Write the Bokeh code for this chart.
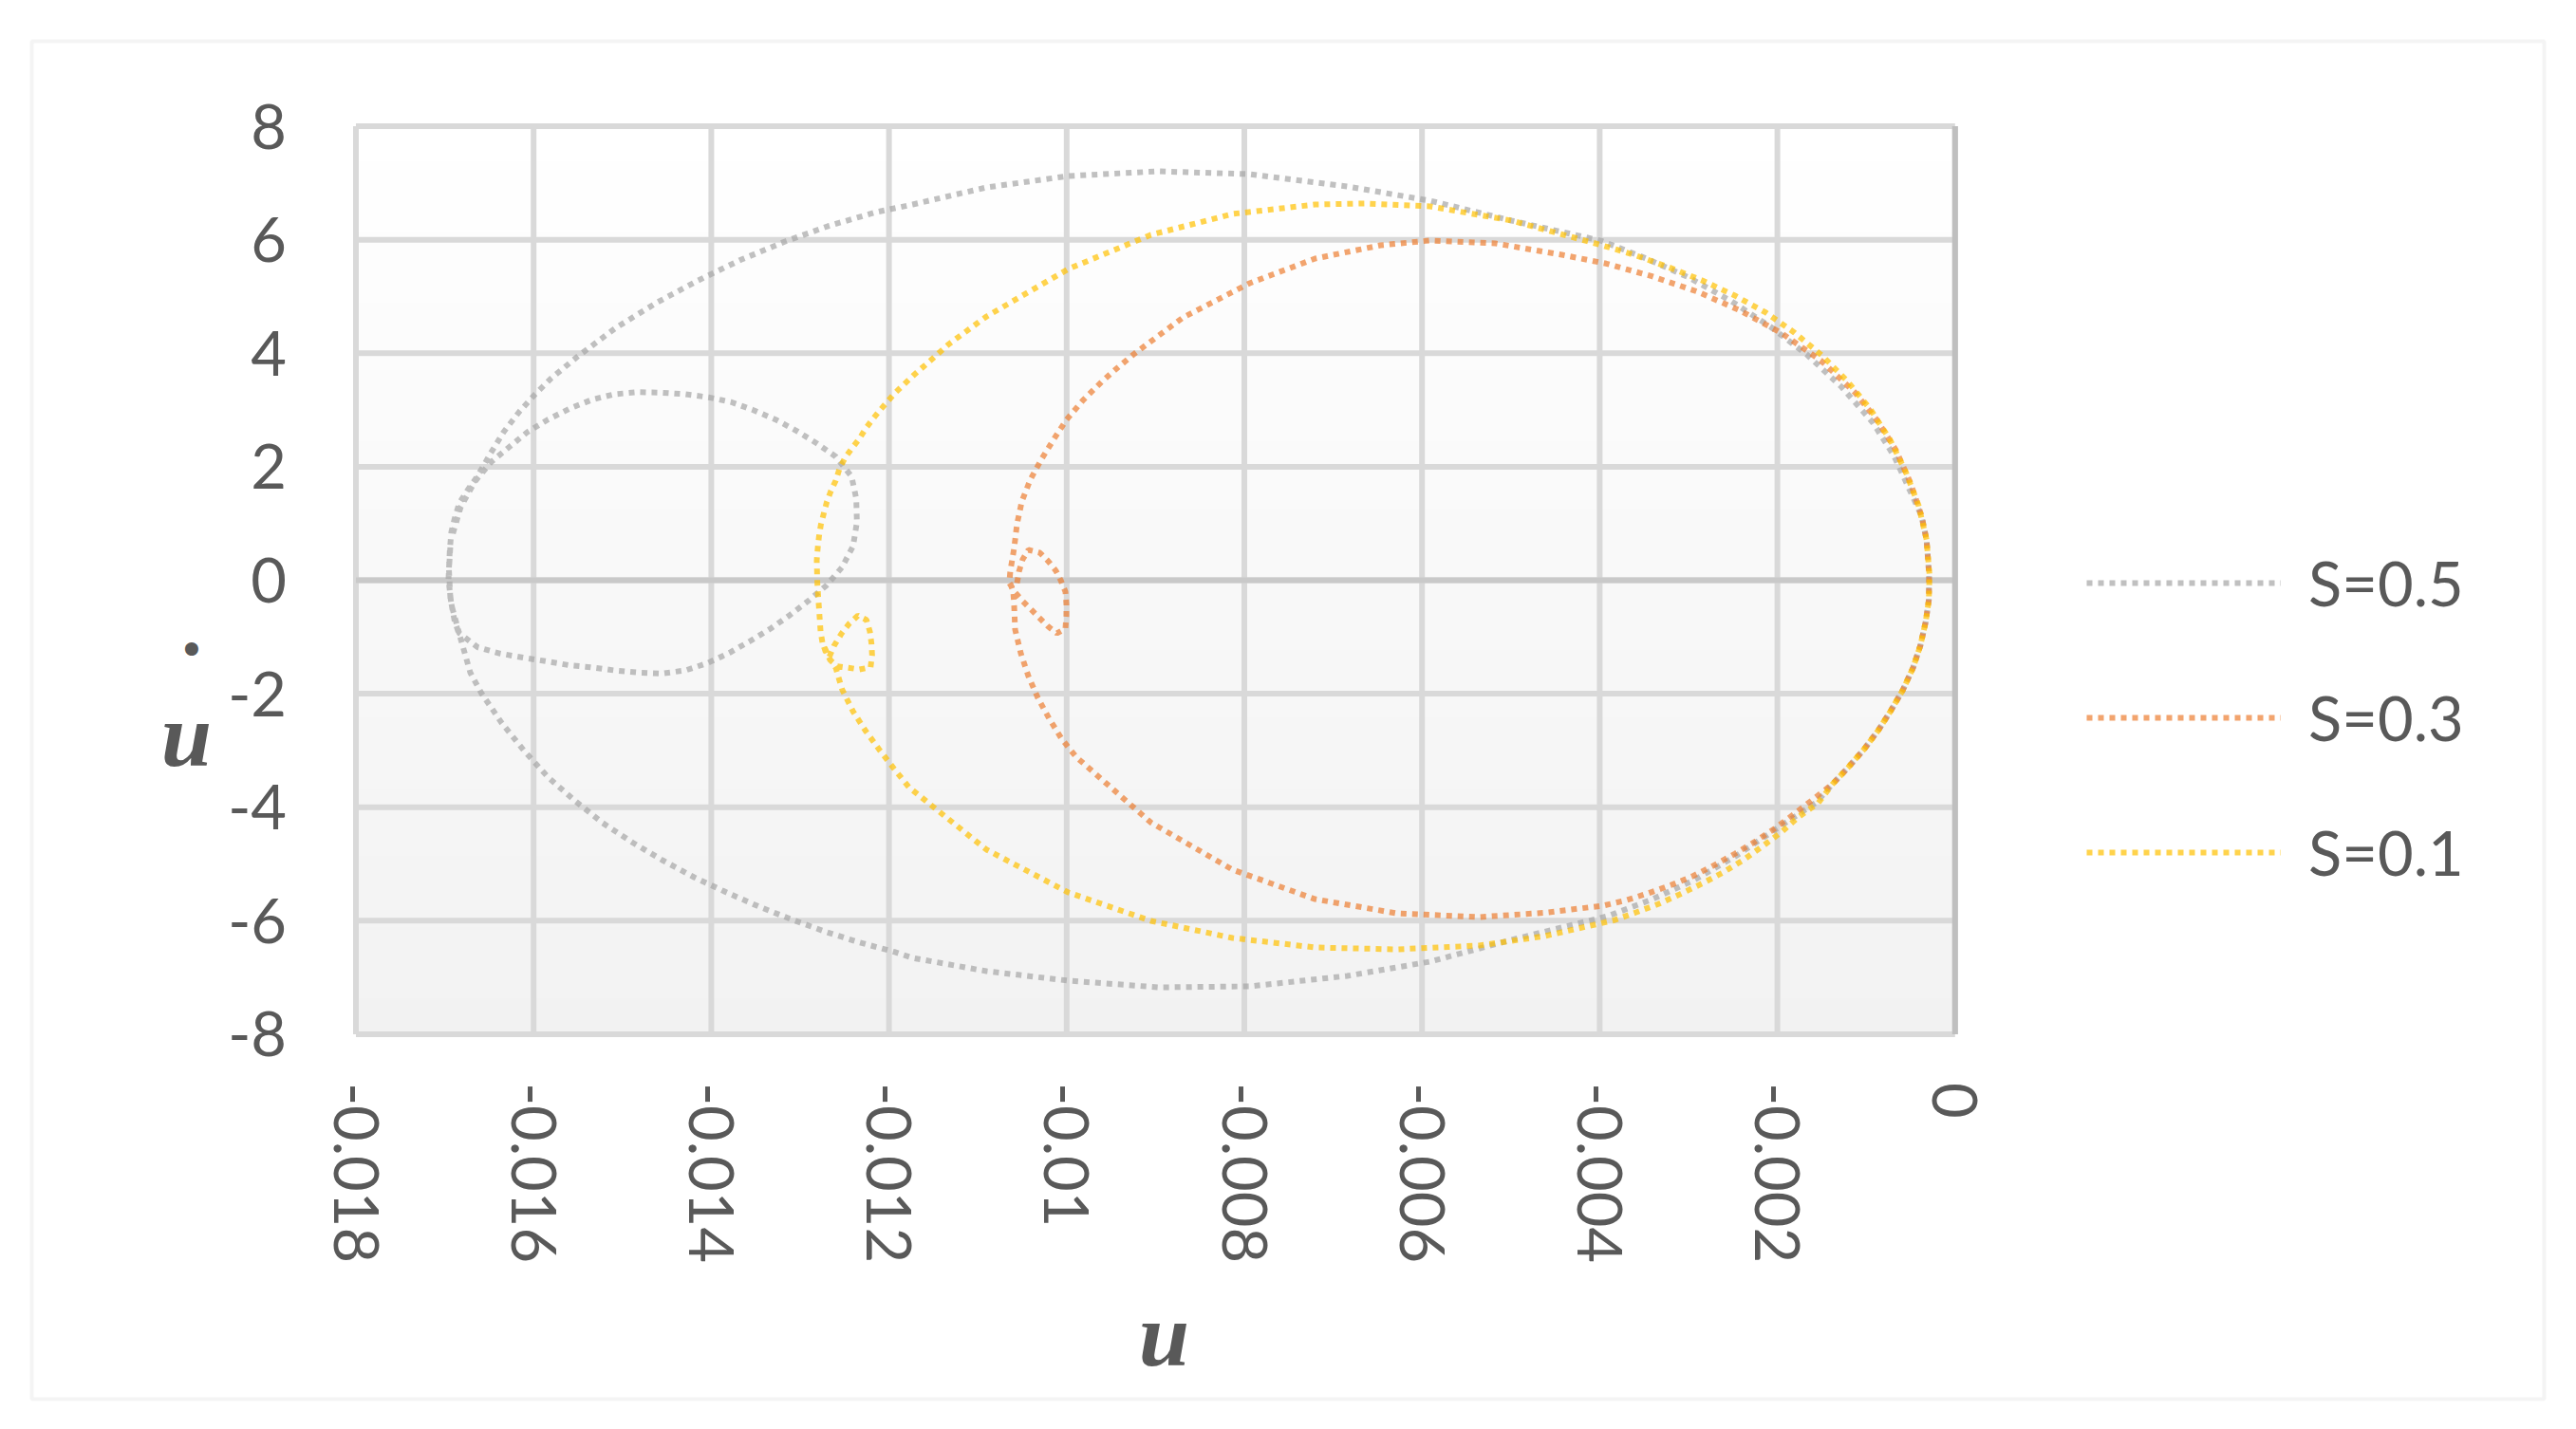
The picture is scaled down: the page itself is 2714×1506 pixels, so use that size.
import math
import numpy as np
from bokeh.plotting import figure
from bokeh.models import Range1d, FixedTicker, Legend, LegendItem, Label, BoxAnnotation
from bokeh.embed import file_html
from bokeh.resources import INLINE

# ---------------- data ----------------
x_ticks = [-0.018, -0.016, -0.014, -0.012, -0.010, -0.008, -0.006, -0.004, -0.002, 0.0]
x_tick_labels = ["-0.018", "-0.016", "-0.014", "-0.012", "-0.01", "-0.008", "-0.006", "-0.004", "-0.002", "0"]
y_ticks = [-8, -6, -4, -2, 0, 2, 4, 6, 8]
y_tick_labels = ["-8", "-6", "-4", "-2", "0", "2", "4", "6", "8"]
series_names = ["S=0.5", "S=0.3", "S=0.1"]

# (u in units of 1e-3, u-dot)
s05_pts = [
    (-16.908, 0.824), (-16.819, 1.299), (-16.659, 1.744), (-16.481, 2.079), (-16.267, 2.358),
    (-16.072, 2.609), (-15.840, 2.831), (-15.591, 3.027), (-15.342, 3.182), (-15.092, 3.278),
    (-14.825, 3.316), (-14.558, 3.306), (-14.291, 3.278), (-14.023, 3.222), (-13.775, 3.139),
    (-13.526, 2.998), (-13.276, 2.831), (-13.045, 2.637), (-12.813, 2.413), (-12.599, 2.179),
    (-12.421, 1.828), (-12.368, 1.438), (-12.361, 1.020), (-12.404, 0.602), (-12.528, 0.229),
    (-12.706, -0.095), (-12.902, -0.356), (-13.115, -0.614), (-13.329, -0.848), (-13.561, -1.070),
    (-13.793, -1.276), (-14.042, -1.460), (-14.291, -1.589), (-14.558, -1.644), (-14.825, -1.627),
    (-15.092, -1.589), (-15.359, -1.533), (-15.591, -1.500), (-15.840, -1.433), (-16.107, -1.366),
    (-16.374, -1.293), (-16.630, -1.182), (-16.838, -0.931), (-16.926, -0.430), (-16.958, 0.017),
    (-16.944, 0.518), (-16.926, 0.853), (-16.891, 1.075), (-16.838, 1.355), (-16.748, 1.577),
    (-16.659, 1.773), (-16.571, 1.995), (-16.481, 2.246), (-16.339, 2.609), (-16.160, 2.972),
    (-15.983, 3.278), (-15.804, 3.557), (-15.502, 3.946), (-15.075, 4.448), (-14.611, 4.895),
    (-14.148, 5.284), (-13.668, 5.647), (-13.169, 5.970), (-12.671, 6.249), (-12.154, 6.483),
    (-11.734, 6.622), (-10.901, 6.923), (-9.982, 7.124), (-8.967, 7.207), (-7.941, 7.157),
    (-6.841, 6.940), (-5.911, 6.689), (-4.993, 6.338), (-3.981, 5.982), (-3.483, 5.674),
    (-3.002, 5.339), (-2.521, 4.921), (-2.076, 4.465), (-1.667, 3.975), (-1.274, 3.400),
    (-0.925, 2.776), (-0.687, 2.191), (-0.491, 1.522), (-0.377, 1.132), (-0.321, 0.714),
    (-0.292, 0.100), (-0.295, -0.346), (-0.331, -0.736), (-0.391, -1.154), (-0.473, -1.543),
    (-0.588, -1.935), (-0.722, -2.296), (-0.865, -2.647), (-1.026, -2.982), (-1.203, -3.299),
    (-1.381, -3.595), (-1.560, -3.913), (-1.951, -4.319), (-2.468, -4.861), (-2.931, -5.279),
    (-3.411, -5.624), (-3.910, -5.920), (-4.993, -6.338), (-5.911, -6.722), (-6.841, -6.973),
    (-7.941, -7.157), (-8.967, -7.174), (-9.982, -7.057), (-10.901, -6.890), (-11.734, -6.656),
    (-11.940, -6.550), (-12.332, -6.383), (-12.706, -6.199), (-13.088, -5.982), (-13.462, -5.753),
    (-13.828, -5.502), (-14.194, -5.234), (-14.551, -4.933), (-14.889, -4.620), (-15.224, -4.276),
    (-15.537, -3.885), (-15.840, -3.467), (-16.107, -3.005), (-16.357, -2.520), (-16.588, -1.990),
    (-16.713, -1.627), (-16.819, -1.042), (-16.891, -0.707), (-16.937, -0.318), (-16.953, 0.184),
    (-16.937, 0.602),
]

s03_pts = [
    (-10.559, -0.050), (-10.537, 0.151), (-10.495, 0.368), (-10.431, 0.535), (-10.302, 0.485),
    (-10.206, 0.334), (-10.121, 0.167), (-10.067, 0.000), (-10.014, -0.201), (-10.003, -0.418),
    (-10.003, -0.619), (-10.014, -0.853), (-10.110, -0.936), (-10.206, -0.819), (-10.302, -0.669),
    (-10.399, -0.518), (-10.495, -0.368), (-10.580, -0.217), (-10.644, -0.050), (-10.634, 0.167),
    (-10.612, 0.368), (-10.591, 0.569), (-10.559, 0.987), (-10.505, 1.388), (-10.409, 1.773),
    (-10.281, 2.140), (-10.142, 2.492), (-10.003, 2.826), (-9.822, 3.161), (-9.608, 3.495),
    (-9.426, 3.746), (-9.234, 3.997), (-8.689, 4.632), (-7.941, 5.234), (-7.204, 5.669),
    (-6.467, 5.903), (-5.911, 5.987), (-5.174, 5.936), (-4.426, 5.736), (-3.927, 5.580),
    (-3.411, 5.356), (-2.906, 5.089), (-2.421, 4.754), (-1.951, 4.353), (-1.513, 3.875),
    (-1.125, 3.306), (-0.883, 2.831), (-0.669, 2.303), (-0.502, 1.717), (-0.377, 1.132),
    (-0.321, 0.714), (-0.292, 0.100), (-0.295, -0.346), (-0.331, -0.736), (-0.391, -1.154),
    (-0.473, -1.543), (-0.588, -1.935), (-0.722, -2.296), (-0.865, -2.647), (-1.026, -2.982),
    (-1.203, -3.299), (-1.381, -3.595), (-1.595, -3.858), (-1.816, -4.125), (-2.030, -4.376),
    (-2.254, -4.610), (-2.479, -4.821), (-2.717, -5.028), (-2.949, -5.212), (-3.198, -5.373),
    (-3.447, -5.513), (-3.703, -5.640), (-3.964, -5.736), (-4.619, -5.860), (-5.356, -5.936),
    (-6.285, -5.870), (-7.204, -5.620), (-8.134, -5.100), (-9.052, -4.270), (-9.896, -3.110),
    (-10.057, -2.793), (-10.196, -2.441), (-10.324, -2.074), (-10.431, -1.689), (-10.516, -1.288),
    (-10.580, -0.870), (-10.591, -0.452), (-10.601, -0.201), (-10.644, -0.017), (-10.634, 0.167),
]

s01_pts = [
    (-12.671, -1.349), (-12.618, -1.154), (-12.535, -0.941), (-12.447, -0.764), (-12.350, -0.624),
    (-12.254, -0.697), (-12.215, -0.903), (-12.197, -1.115), (-12.190, -1.321), (-12.207, -1.533),
    (-12.332, -1.572), (-12.457, -1.543), (-12.581, -1.517), (-12.663, -1.405), (-12.749, -1.099),
    (-12.770, -0.903), (-12.788, -0.485), (-12.806, -0.067), (-12.813, 0.351), (-12.802, 0.564),
    (-12.788, 0.769), (-12.767, 0.975), (-12.735, 1.171), (-12.699, 1.383), (-12.653, 1.577),
    (-12.599, 1.756), (-12.557, 1.968), (-12.493, 2.162), (-12.415, 2.329), (-12.332, 2.497),
    (-12.261, 2.676), (-12.179, 2.848), (-12.100, 2.998), (-11.926, 3.311), (-11.723, 3.612),
    (-11.531, 3.875), (-11.328, 4.159), (-11.175, 4.336), (-10.901, 4.649), (-9.982, 5.485),
    (-9.052, 6.087), (-8.134, 6.455), (-7.204, 6.622), (-6.649, 6.639), (-5.911, 6.589),
    (-4.993, 6.338), (-3.999, 5.915), (-3.607, 5.731), (-3.226, 5.518), (-2.848, 5.284),
    (-2.485, 5.022), (-2.129, 4.716), (-1.809, 4.365), (-1.499, 3.963), (-1.214, 3.512),
    (-0.954, 3.015), (-0.733, 2.480), (-0.556, 1.911), (-0.412, 1.326), (-0.321, 0.714),
    (-0.288, 0.100), (-0.295, -0.346), (-0.331, -0.736), (-0.391, -1.154), (-0.473, -1.543),
    (-0.588, -1.935), (-0.722, -2.296), (-0.865, -2.647), (-1.026, -2.982), (-1.203, -3.299),
    (-1.381, -3.595), (-1.542, -3.930), (-1.755, -4.164), (-1.958, -4.443), (-2.172, -4.694),
    (-2.386, -4.933), (-2.618, -5.156), (-2.848, -5.346), (-3.091, -5.530), (-3.340, -5.707),
    (-3.590, -5.853), (-3.839, -5.992), (-4.619, -6.271), (-5.356, -6.438), (-6.285, -6.505),
    (-7.204, -6.472), (-8.134, -6.304), (-9.052, -6.003), (-9.982, -5.502), (-10.901, -4.749),
    (-11.774, -3.651), (-11.940, -3.328), (-12.100, -3.005), (-12.261, -2.659), (-12.404, -2.313),
    (-12.528, -1.923), (-12.599, -1.543), (-12.706, -1.293), (-12.749, -1.099),
]

series_pts = [s05_pts, s03_pts, s01_pts]
series_colors = ["#A5A5A5", "#ED7D31", "#FFC000"]

# ---------------- figure ----------------
# The frame spans the whole canvas; the plot area is x in [-0.018, 0], y in [-8, 8].
W, H = 2700, 1490
X0, X1 = x_ticks[0], x_ticks[-1]
Y0, Y1 = y_ticks[0], y_ticks[-1]
p = figure(width=W, height=H, output_backend="svg", toolbar_location=None,
           x_range=Range1d(-0.0220011, 0.0068451), y_range=Range1d(-14.699, 10.2174),
           min_border=0)
p.min_border_left = p.min_border_right = p.min_border_top = p.min_border_bottom = 0
p.title.visible = False
p.outline_line_color = None
p.background_fill_color = "white"
p.border_fill_color = "white"
p.grid.visible = False

# plot-area vertical gradient (light grey at bottom -> white at top)
n = 256
shade = np.round(242 + 13 * np.linspace(0, 1, n)).astype(np.uint8)
img = np.empty((n, 1), dtype=np.uint32)
view = img.view(dtype=np.uint8).reshape((n, 1, 4))
view[:, 0, 0] = shade
view[:, 0, 1] = shade
view[:, 0, 2] = shade
view[:, 0, 3] = 255
p.image_rgba(image=[img], x=X0, y=Y0, dw=X1 - X0, dh=Y1 - Y0, level="image")

# grid lines at the tick positions, limited to the plot area
p.segment(x0=x_ticks, y0=[Y0] * len(x_ticks), x1=x_ticks, y1=[Y1] * len(x_ticks),
          line_color="#d9d9d9", line_width=6, level="underlay")
p.segment(x0=[X0] * len(y_ticks), y0=y_ticks, x1=[X1] * len(y_ticks), y1=y_ticks,
          line_color="#d9d9d9", line_width=6, level="underlay")
# axis lines crossing at zero
p.segment(x0=[X0], y0=[0], x1=[X1], y1=[0], line_color="#c9c9c9", line_width=6, level="underlay")
p.segment(x0=[0], y0=[Y0], x1=[0], y1=[Y1], line_color="#bfbfbf", line_width=6, level="underlay")

# axes pinned to the plot-area edges
p.xaxis.fixed_location = Y0
p.yaxis.fixed_location = X0
p.xaxis.ticker = FixedTicker(ticks=x_ticks)
p.xaxis.major_label_overrides = dict(zip(x_ticks, x_tick_labels))
p.yaxis.ticker = FixedTicker(ticks=y_ticks)
p.yaxis.major_label_overrides = dict(zip(y_ticks, y_tick_labels))
p.xaxis.major_label_orientation = -math.pi / 2
p.xaxis.major_label_standoff = 51
p.yaxis.major_label_standoff = 73
for ax in (p.xaxis, p.yaxis):
    ax.axis_line_color = None
    ax.major_tick_out = 0
    ax.major_tick_in = 0
    ax.minor_tick_out = 0
    ax.minor_tick_in = 0
    ax.major_label_text_font = "Lato"
    ax.major_label_text_font_size = "65px"
    ax.major_label_text_color = "#595959"

renderers = []
for pts, col in zip(series_pts, series_colors):
    u = [a / 1000.0 for a, b in pts]
    v = [b for a, b in pts]
    r = p.line(u, v, line_color=col, line_alpha=0.7, line_width=6, line_dash="6 6")
    renderers.append(r)

legend = Legend(items=[LegendItem(label=nm, renderers=[r]) for nm, r in zip(series_names, renderers)],
                location=(2198, 553), orientation="vertical",
                glyph_width=205, glyph_height=78, label_height=78, label_standoff=29,
                spacing=64, padding=0, margin=0, border_line_color=None,
                background_fill_alpha=0, label_text_font="Lato",
                label_text_font_size="65px", label_text_color="#595959")
p.add_layout(legend)

# axis titles (u and u-dot)
p.add_layout(Label(x=-0.008903, y=-13.29, text="u", text_font="Liberation Serif",
                   text_font_style="bold italic", text_font_size="96px", text_color="#595959",
                   text_align="center", text_baseline="alphabetic"))
p.add_layout(Label(x=-0.019907, y=-2.72, text="u", text_font="Liberation Serif",
                   text_font_style="bold italic", text_font_size="96px", text_color="#595959",
                   text_align="center", text_baseline="alphabetic"))
p.add_layout(Label(x=-0.01985, y=-1.237, text="\u2022", text_font="DejaVu Sans",
                   text_font_size="48px", text_color="#595959",
                   text_align="center", text_baseline="middle"))

# outer chart border
p.add_layout(BoxAnnotation(left=-0.0216485, right=0.0066314, top=9.4983, bottom=-14.4314,
                           fill_alpha=0, line_color="#d9d9d9", line_width=4))

open("out.html", "w").write(file_html(p, INLINE))
